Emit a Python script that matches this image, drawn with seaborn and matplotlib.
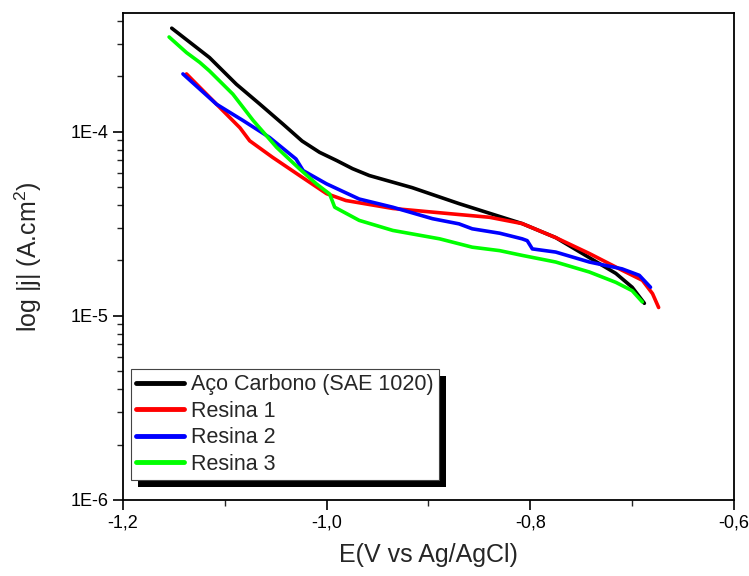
import numpy as np
import pandas as pd
import matplotlib
matplotlib.use("Agg")
import matplotlib.pyplot as plt
from matplotlib.patches import Rectangle
from matplotlib.ticker import MultipleLocator, LogLocator, NullFormatter
import seaborn as sns

# Polarisation curves (E in V, j in A/cm2)
aco_E = [-1.152, -1.115, -1.0885, -1.066, -1.0428, -1.024, -1.0069, -0.990, -0.9745,
         -0.958, -0.916, -0.870, -0.808, -0.775, -0.742, -0.716, -0.700, -0.688]
aco_j = [3.65e-4, 2.53e-4, 1.81e-4, 1.42e-4, 1.10e-4, 8.9e-5, 7.73e-5, 6.97e-5, 6.30e-5,
         5.78e-5, 4.97e-5, 4.07e-5, 3.17e-5, 2.66e-5, 2.07e-5, 1.70e-5, 1.43e-5, 1.17e-5]

r1_E = [-1.1375, -1.108, -1.085, -1.0755, -1.053, -1.0265, -1.000, -0.981, -0.935,
        -0.870, -0.840, -0.808, -0.775, -0.742, -0.710, -0.690, -0.680, -0.674]
r1_j = [2.06e-4, 1.41e-4, 1.05e-4, 8.93e-5, 7.26e-5, 5.78e-5, 4.61e-5, 4.23e-5, 3.83e-5,
        3.55e-5, 3.43e-5, 3.17e-5, 2.66e-5, 2.18e-5, 1.77e-5, 1.56e-5, 1.32e-5, 1.11e-5]

r2_E = [-1.141, -1.108, -1.082, -1.056, -1.030, -1.023, -1.000, -0.968, -0.935,
        -0.896, -0.870, -0.857, -0.830, -0.808, -0.803, -0.798, -0.775, -0.742,
        -0.710, -0.693, -0.682]
r2_j = [2.06e-4, 1.41e-4, 1.15e-4, 9.31e-5, 7.11e-5, 6.15e-5, 5.21e-5, 4.31e-5, 3.89e-5,
        3.37e-5, 3.16e-5, 2.97e-5, 2.81e-5, 2.62e-5, 2.56e-5, 2.31e-5, 2.22e-5, 1.96e-5,
        1.80e-5, 1.66e-5, 1.43e-5]

r3_E = [-1.1546, -1.1375, -1.1245, -1.115, -1.092, -1.072, -1.049, -1.0265, -1.010, -0.997,
        -0.992, -0.968, -0.935, -0.889, -0.857, -0.830, -0.808, -0.775, -0.742,
        -0.716, -0.700, -0.690]
r3_j = [3.27e-4, 2.69e-4, 2.38e-4, 2.14e-4, 1.60e-4, 1.15e-4, 8.22e-5, 6.28e-5, 5.21e-5, 4.59e-5,
        3.89e-5, 3.30e-5, 2.91e-5, 2.62e-5, 2.36e-5, 2.26e-5, 2.13e-5, 1.96e-5, 1.73e-5,
        1.52e-5, 1.37e-5, 1.19e-5]

series_names = ["Aço Carbono (SAE 1020)", "Resina 1", "Resina 2", "Resina 3"]
series_colors = ["#000000", "#ff0000", "#0000ff", "#00ff00"]

x_ticks = [-1.2, -1.0, -0.8, -0.6]
x_tick_labels = ["-1,2", "-1,0", "-0,8", "-0,6"]
y_ticks = [1e-6, 1e-5, 1e-4]
y_tick_labels = ["1E-6", "1E-5", "1E-4"]

# Build one long table for seaborn
frames = []
for name, E, j in zip(series_names, [aco_E, r1_E, r2_E, r3_E], [aco_j, r1_j, r2_j, r3_j]):
    frames.append(pd.DataFrame({"E": E, "j": j, "amostra": name}))
df = pd.concat(frames, ignore_index=True)

sns.set_style("ticks")
plt.rcParams['font.family'] = ['Liberation Sans', 'DejaVu Sans']
plt.rcParams['mathtext.fontset'] = 'custom'
plt.rcParams['mathtext.rm'] = 'Liberation Sans'

fig = plt.figure(figsize=(7.49, 5.76), dpi=100)
ax = fig.add_axes([0.164, 0.132, 0.816, 0.845])

sns.lineplot(data=df, x="E", y="j", hue="amostra", hue_order=series_names,
             palette=series_colors, estimator=None, sort=False, linewidth=2.6, ax=ax)

ax.set_yscale("log")
ax.set_xlim(-1.2, -0.6)
ax.set_ylim(1e-6, 4.4e-4)

ax.set_xticks(x_ticks)
ax.set_xticklabels(x_tick_labels)
ax.xaxis.set_minor_locator(MultipleLocator(0.1))
ax.set_yticks(y_ticks)
ax.set_yticklabels(y_tick_labels)
ax.yaxis.set_minor_locator(LogLocator(base=10, subs=np.arange(2, 10)))
ax.yaxis.set_minor_formatter(NullFormatter())

ax.tick_params(which="major", direction="out", length=7, width=1.2, labelsize=13, colors="black")
ax.tick_params(which="minor", direction="out", length=4, width=1.0)
for side in ["top", "right", "left", "bottom"]:
    ax.spines[side].set_visible(True)
    ax.spines[side].set_color("black")
    ax.spines[side].set_linewidth(1.3)

ax.set_xlabel("E(V vs Ag/AgCl)", fontsize=18, labelpad=8)
ax.set_ylabel(r"log |j| (A.cm$^2$)", fontsize=18, labelpad=19)

leg = ax.legend(loc="lower left", bbox_to_anchor=(0.013, 0.041), borderaxespad=0,
                fontsize=15.5, handlelength=2.2, labelspacing=0.25, borderpad=0.25,
                handletextpad=0.35, fancybox=False, framealpha=1, title=None)
leg.get_frame().set_edgecolor("#444444")
leg.get_frame().set_linewidth(0.8)
leg.set_zorder(10)
for line in leg.get_lines():
    line.set_linewidth(3.5)

# Black drop shadow behind the legend
fig.canvas.draw()
bb = leg.get_window_extent()
shadow = Rectangle((bb.x0 + 7, bb.y0 - 7), bb.width, bb.height, transform=None,
                   facecolor="black", edgecolor="none", zorder=9, clip_on=False)
ax.add_artist(shadow)

fig.savefig("out.png", dpi=100)
